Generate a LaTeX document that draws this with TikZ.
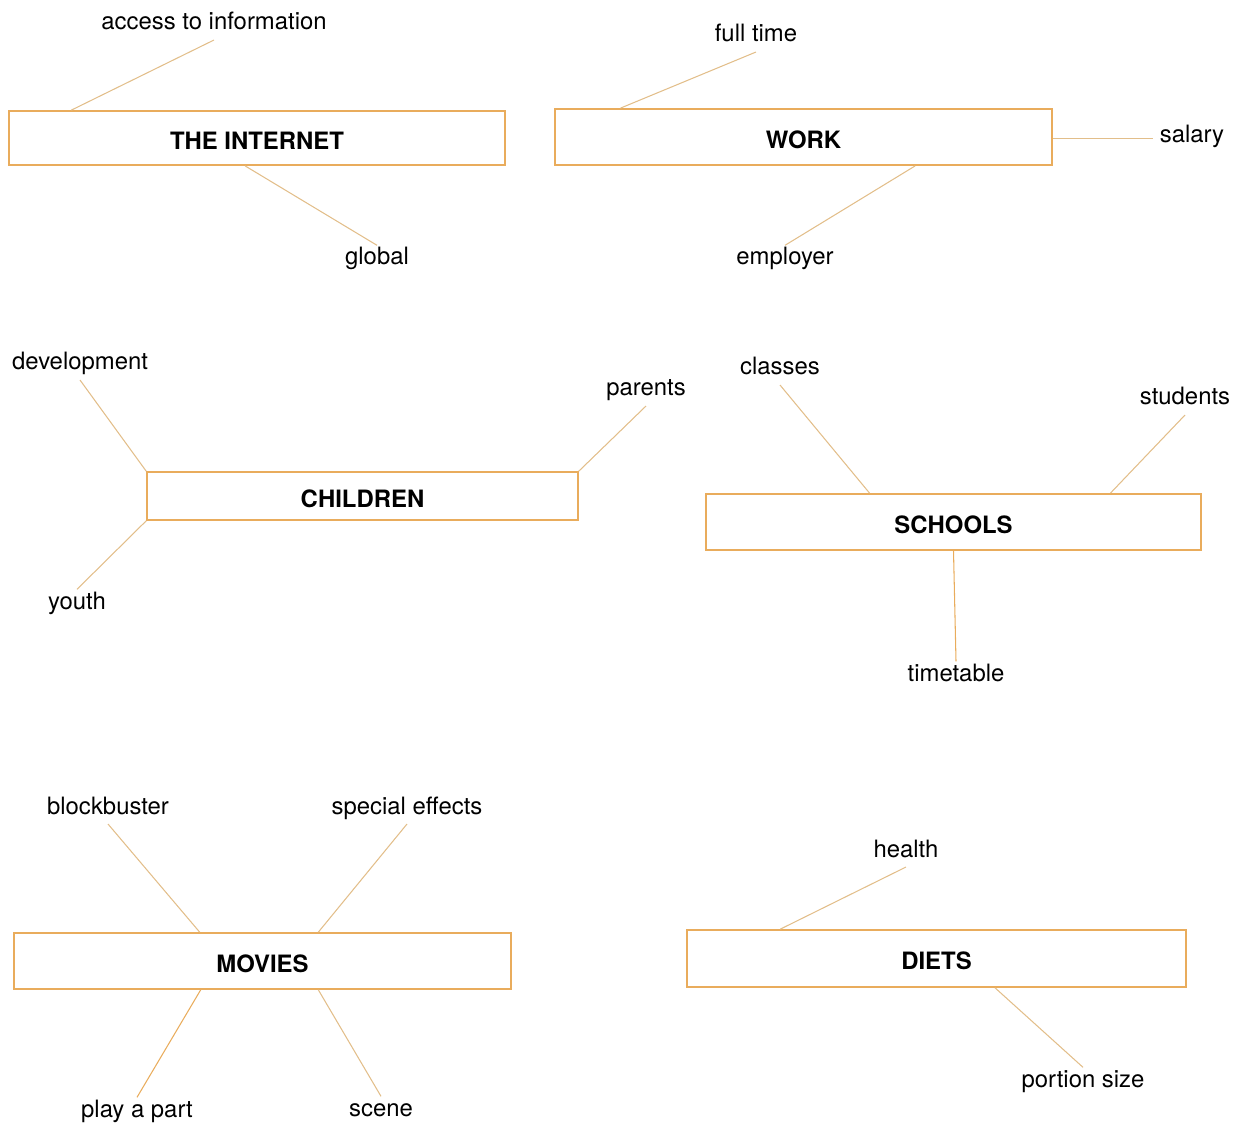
\documentclass[tikz,border=0pt]{standalone}
\usepackage{fontspec}
\setmainfont{TeX Gyre Heros}
\usetikzlibrary{calc}

\definecolor{boxline}{RGB}{233,172,92}
\definecolor{spokeline}{RGB}{226,190,138}
\tikzset{
  topic/.style={draw=boxline, line width=1pt, inner sep=0pt, text height=1.3em,
    font=\fontsize{13.6}{16}\selectfont\bfseries},
  word/.style={anchor=base, inner sep=3.5pt, text height=0.75em, text depth=0.2em,
    font=\fontsize{13.6}{16}\selectfont},
  spoke/.style={draw=spokeline, line width=0.6pt},
}

\begin{document}
\begin{tikzpicture}[x=0.02cm, y=-0.02cm]
  \useasboundingbox (0,0) rectangle (1236,1124);

  % topic boxes
  \node[topic, minimum width=9.92cm, minimum height=1.08cm] (net)   at (257,138)   {THE INTERNET};
  \node[topic, minimum width=9.94cm, minimum height=1.12cm] (work)  at (803.5,137) {WORK};
  \node[topic, minimum width=8.62cm, minimum height=0.96cm] (kids)  at (362.5,496) {CHILDREN};
  \node[topic, minimum width=9.90cm, minimum height=1.12cm] (school) at (953.5,522) {SCHOOLS};
  \node[topic, minimum width=9.94cm, minimum height=1.12cm] (movie) at (262.5,961) {MOVIES};
  \node[topic, minimum width=9.98cm, minimum height=1.14cm] (diet)  at (936.5,958.5) {DIETS};

  % words
  \node[word] (acc)  at (214,30)    {access to information};
  \node[word] (glob) at (377,265)   {global};
  \node[word] (ft)   at (756,42)    {full time};
  \node[word] (sal)  at (1192,143)  {salary};
  \node[word] (emp)  at (785,265)   {employer};
  \node[word] (dev)  at (80,370)    {development};
  \node[word] (par)  at (646,396)   {parents};
  \node[word] (you)  at (77,609)    {youth};
  \node[word] (cls)  at (780,375)   {classes};
  \node[word] (stu)  at (1185,405)  {students};
  \node[word] (tt)   at (956,681)   {timetable};
  \node[word] (bb)   at (108,814)   {blockbuster};
  \node[word] (sfx)  at (407,814)   {special effects};
  \node[word] (pap)  at (137,1117)  {play a part};
  \node[word] (scn)  at (381,1116)  {scene};
  \node[word] (hea)  at (906,857)   {health};
  \node[word] (pos)  at (1083,1087) {portion size};

  % spokes
  \draw[spoke] ($(net.north west)!0.127!(net.north east)$) -- (acc.south);
  \draw[spoke] ($(net.south west)!0.476!(net.south east)$) -- (glob.north);
  \draw[spoke] ($(work.north west)!0.133!(work.north east)$) -- (ft.south);
  \draw[spoke] (work.east |- sal.west) -- (sal.west);
  \draw[spoke] ($(work.south west)!0.724!(work.south east)$) -- (emp.north);
  \draw[spoke] (kids.north west) -- (dev.south);
  \draw[spoke] (kids.north east) -- (par.south);
  \draw[spoke] (kids.south west) -- (you.north);
  \draw[spoke] ($(school.north west)!0.331!(school.north east)$) -- (cls.south);
  \draw[spoke] ($(school.north west)!0.816!(school.north east)$) -- (stu.south);
  \draw[spoke, draw=boxline] (school.south) -- (tt.north);
  \draw[spoke] ($(movie.north west)!0.374!(movie.north east)$) -- (bb.south);
  \draw[spoke] ($(movie.north west)!0.612!(movie.north east)$) -- (sfx.south);
  \draw[spoke, draw=boxline] ($(movie.south west)!0.376!(movie.south east)$) -- (pap.north);
  \draw[spoke] ($(movie.south west)!0.612!(movie.south east)$) -- (scn.north);
  \draw[spoke] ($(diet.north west)!0.188!(diet.north east)$) -- (hea.south);
  \draw[spoke] ($(diet.south west)!0.617!(diet.south east)$) -- (pos.north);
\end{tikzpicture}
\end{document}
